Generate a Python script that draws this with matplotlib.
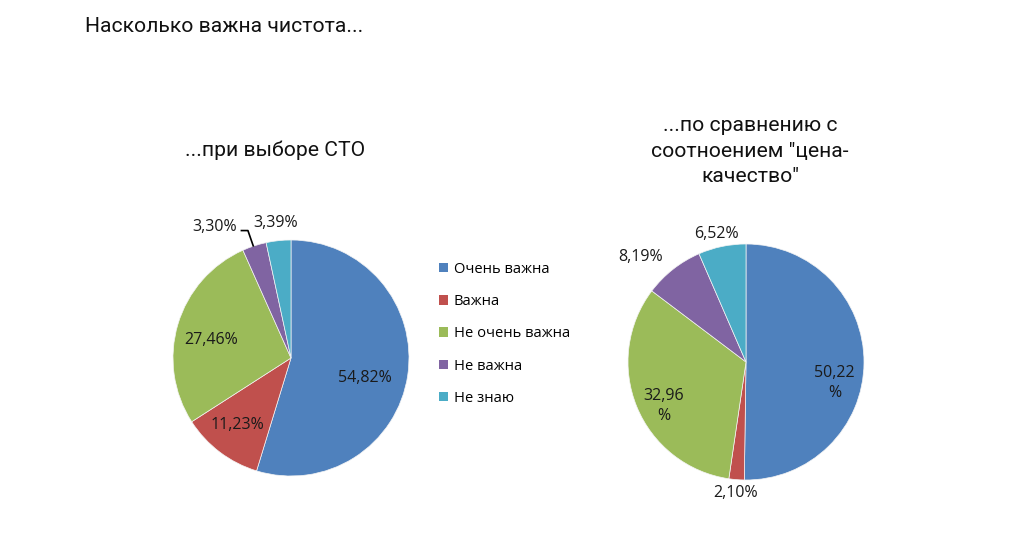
import matplotlib
matplotlib.use("Agg")
import matplotlib.pyplot as plt
from matplotlib.patches import Patch

categories = ["Очень важна", "Важна", "Не очень важна", "Не важна", "Не знаю"]
left_values = [54.82, 11.23, 27.46, 3.30, 3.39]
right_values = [50.22, 2.10, 32.96, 8.19, 6.52]
left_labels = ["54,82%", "11,23%", "27,46%", "3,30%", "3,39%"]
right_labels = ["50,22\n%", "2,10%", "32,96\n%", "8,19%", "6,52%"]
colors = ["#4F81BD", "#C0504D", "#9BBB59", "#8064A2", "#4BACC6"]

main_title = "Насколько важна чистота..."
left_title = "...при выборе СТО"
right_title = "...по сравнению с\nсоотноением \"цена-\nкачество\""

# label positions (in pie-radius units)
left_pos = [(0.63, -0.17), (-0.45, -0.57), (-0.68, 0.15), (-0.65, 1.11), (-0.13, 1.14)]
right_pos = [(0.75, -0.18), (-0.09, -1.11), (-0.70, -0.37), (-0.89, 0.89), (-0.25, 1.085)]

W, H = 1024, 545
fig = plt.figure(figsize=(W / 100, H / 100), dpi=100)
fig.patch.set_facecolor("white")

LBL_FONT = ["Open Sans", "DejaVu Sans"]
TTL_FONT = ["Roboto", "DejaVu Sans"]

R = 118
LIM = 1.6

def make_ax(cx, cy):
    half = R * LIM
    ax = fig.add_axes([(cx - half) / W, (H - cy - half) / H, 2 * half / W, 2 * half / H])
    return ax

def draw_pie(ax, values, labels, pos):
    wedges, _ = ax.pie(values, colors=colors, startangle=90, counterclock=False,
                       wedgeprops=dict(linewidth=0.5, edgecolor="#f4f4f4"))
    ax.set_xlim(-LIM, LIM)
    ax.set_ylim(-LIM, LIM)
    ax.set_aspect("equal")
    ax.axis("off")
    for (x, y), t in zip(pos, labels):
        ax.text(x, y, t, ha="center", va="center", fontsize=11.5,
                family=LBL_FONT, color="#1a1a1a", linespacing=1.35)
    return wedges

axL = make_ax(291, 358)
wedges = draw_pie(axL, left_values, left_labels, left_pos)
# leader line for 3,30%
axL.plot([-0.42, -0.365, -0.32], [1.08, 1.08, 0.95], color="black", lw=1.2)

axR = make_ax(746, 362)
draw_pie(axR, right_values, right_labels, right_pos)

fig.text(85 / W, 1 - 27 / H, main_title, ha="left", va="center", fontsize=15.2,
         family=TTL_FONT, color="#111111")
fig.text(275 / W, 1 - 150 / H, left_title, ha="center", va="center", fontsize=15.2,
         family=TTL_FONT, color="#111111")
fig.text(750 / W, 1 - 151 / H, right_title, ha="center", va="center", fontsize=15.2,
         family=TTL_FONT, color="#111111", linespacing=1.42)

handles = [Patch(facecolor=c, edgecolor="none") for c in colors]
leg = fig.legend(handles, categories, loc="upper left",
                 bbox_to_anchor=(433 / W, 1 - 256 / H), frameon=False,
                 prop=dict(family=LBL_FONT, size=10.6),
                 handlelength=0.62, handleheight=0.62, handletextpad=0.4,
                 labelspacing=1.17, borderaxespad=0)

fig.savefig("out.png", dpi=100, facecolor="white")
